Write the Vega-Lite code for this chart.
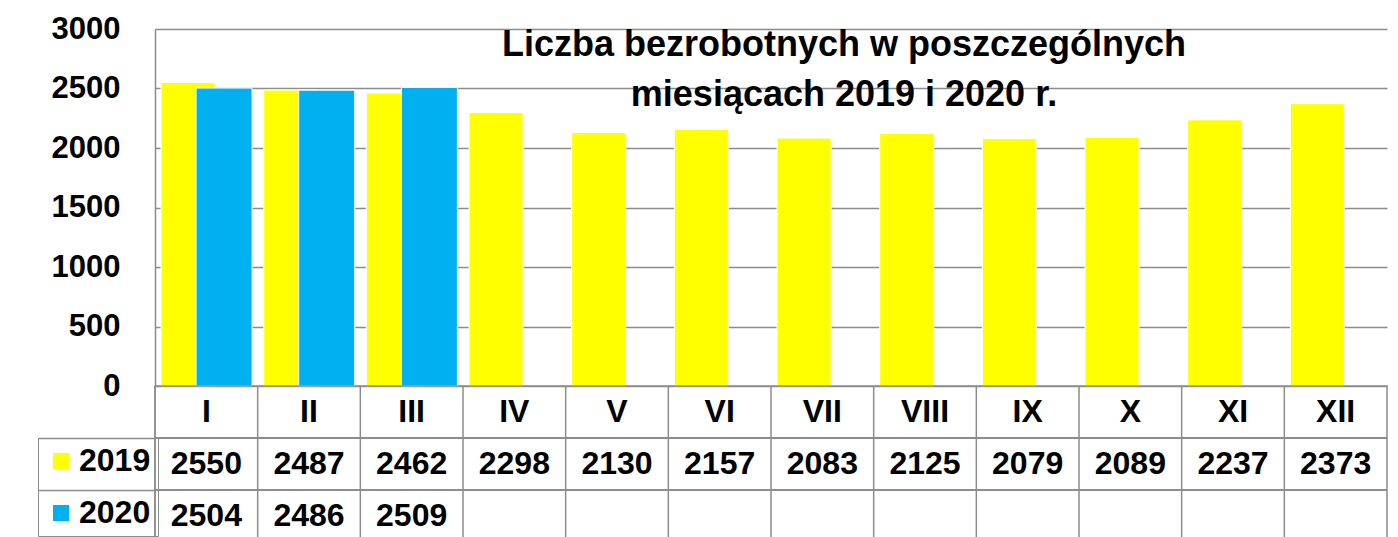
{
  "$schema": "https://vega.github.io/schema/vega-lite/v6.json",
  "padding": {"left": 36, "top": 13, "right": 13, "bottom": 0},
  "autosize": {"type": "pad"},
  "background": "white",
  "bounds": "flush",
  "config": {
    "view": {"stroke": null},
    "font": "Liberation Sans",
    "concat": {"spacing": 0}
  },
  "data": {
    "values": [
      {"miesiac": "I", "rok": "2019", "liczba": 2550},
      {"miesiac": "II", "rok": "2019", "liczba": 2487},
      {"miesiac": "III", "rok": "2019", "liczba": 2462},
      {"miesiac": "IV", "rok": "2019", "liczba": 2298},
      {"miesiac": "V", "rok": "2019", "liczba": 2130},
      {"miesiac": "VI", "rok": "2019", "liczba": 2157},
      {"miesiac": "VII", "rok": "2019", "liczba": 2083},
      {"miesiac": "VIII", "rok": "2019", "liczba": 2125},
      {"miesiac": "IX", "rok": "2019", "liczba": 2079},
      {"miesiac": "X", "rok": "2019", "liczba": 2089},
      {"miesiac": "XI", "rok": "2019", "liczba": 2237},
      {"miesiac": "XII", "rok": "2019", "liczba": 2373},
      {"miesiac": "I", "rok": "2020", "liczba": 2504},
      {"miesiac": "II", "rok": "2020", "liczba": 2486},
      {"miesiac": "III", "rok": "2020", "liczba": 2509}
    ]
  },
  "vconcat": [
    {
      "width": 1232,
      "height": 357,
      "title": {
        "text": ["Liczba bezrobotnych w poszczególnych", "miesiącach 2019 i 2020 r."],
        "font": "Liberation Sans",
        "fontSize": 36,
        "fontWeight": "bold",
        "color": "black",
        "anchor": "middle",
        "lineHeight": 50,
        "dx": 73,
        "offset": -101
      },
      "encoding": {
        "x": {
          "field": "miesiac",
          "type": "nominal",
          "sort": null,
          "scale": {"domain": ["I","II","III","IV","V","VI","VII","VIII","IX","X","XI","XII"], "paddingInner": 0, "paddingOuter": 0},
          "axis": null
        },
        "y": {
          "field": "liczba",
          "type": "quantitative",
          "scale": {"domain": [0, 3000]},
          "axis": {
            "title": null,
            "values": [0, 500, 1000, 1500, 2000, 2500, 3000],
            "format": "d",
            "labelFontSize": 31,
            "labelFontWeight": "bold",
            "labelColor": "black",
            "labelPadding": 35,
            "ticks": false,
            "tickSize": 0,
            "domainColor": "#8c8c8c",
            "domainWidth": 1.5,
            "gridColor": "#8c8c8c",
            "gridWidth": 1.5
          }
        },
        "color": {
          "field": "rok",
          "type": "nominal",
          "scale": {"domain": ["2019", "2020"], "range": ["#FFFF00", "#00B0F0"]},
          "legend": {
            "orient": "none",
            "legendX": -117,
            "legendY": 409,
            "title": null,
            "direction": "vertical",
            "symbolType": "square",
            "symbolSize": 256,
            "symbolStrokeWidth": 0,
            "labelFontSize": 32,
            "labelFontWeight": "bold",
            "labelColor": "black",
            "labelOffset": 2,
            "rowPadding": 20,
            "padding": 7,
            "strokeColor": "#8c8c8c"
          }
        }
      },
      "layer": [
        {
          "transform": [{"filter": "datum.rok == '2019'"}],
          "mark": {"type": "bar", "width": 54, "xOffset": -18.3, "stroke": "white", "strokeWidth": 1}
        },
        {
          "transform": [{"filter": "datum.rok == '2020'"}],
          "mark": {"type": "bar", "width": 56, "xOffset": 17.7, "stroke": "white", "strokeWidth": 1}
        }
      ]
    },
    {
      "width": 1232,
      "height": 156,
      "view": {"stroke": "#8c8c8c", "strokeWidth": 1.5},
      "layer": [
        {
          "transform": [{"filter": "datum.rok == '2019'"}],
          "mark": {"type": "rule", "color": "#8c8c8c", "strokeWidth": 1.5},
          "encoding": {
            "x": {
              "field": "miesiac",
              "type": "nominal",
              "bandPosition": 0,
              "scale": {"domain": ["I","II","III","IV","V","VI","VII","VIII","IX","X","XI","XII"], "paddingInner": 0, "paddingOuter": 0},
              "axis": null
            }
          }
        },
        {
          "mark": {"type": "rule", "color": "#8c8c8c", "strokeWidth": 1.5},
          "encoding": {
            "y": {
              "field": "rok",
              "type": "nominal",
              "bandPosition": 0,
              "scale": {"domain": ["m", "2019", "2020"], "paddingInner": 0, "paddingOuter": 0},
              "axis": {
                "title": null,
                "labels": false,
                "domain": false,
                "grid": false,
                "bandPosition": 0,
                "ticks": true,
                "tickSize": 117,
                "tickWidth": 1.5,
                "tickColor": {"condition": {"test": "datum.value === 'm'", "value": "transparent"}, "value": "#8c8c8c"}
              }
            }
          }
        },
        {
          "transform": [{"filter": "datum.rok == '2019'"}],
          "mark": {"type": "text", "fontSize": 32, "fontWeight": "bold", "color": "black"},
          "encoding": {
            "x": {"field": "miesiac", "type": "nominal"},
            "y": {"datum": "m", "type": "nominal"},
            "text": {"field": "miesiac", "type": "nominal"}
          }
        },
        {
          "mark": {"type": "text", "fontSize": 32, "fontWeight": "bold", "color": "black"},
          "encoding": {
            "x": {"field": "miesiac", "type": "nominal"},
            "y": {"field": "rok", "type": "nominal"},
            "text": {"field": "liczba", "type": "nominal"}
          }
        }
      ]
    }
  ]
}
